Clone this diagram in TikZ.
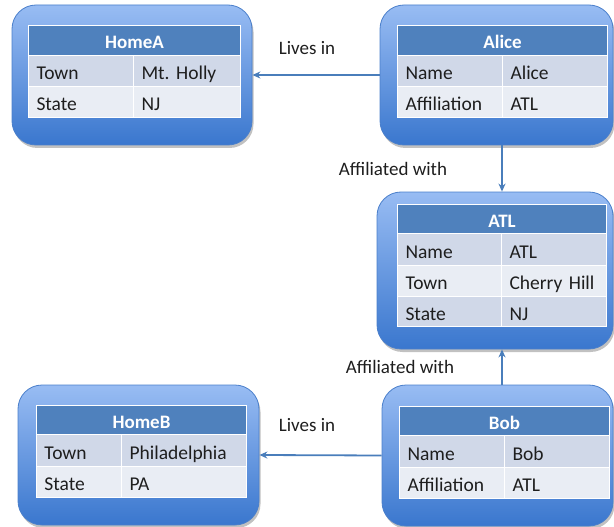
\documentclass[tikz,border=0pt]{standalone}
\usepackage{fontspec}
\setmainfont{Carlito}
\usetikzlibrary{shadows,arrows.meta}
\frenchspacing
\definecolor{entTop}{HTML}{98BCF3}
\definecolor{entBot}{HTML}{3A77CE}
\definecolor{entLine}{HTML}{4A7FCB}
\definecolor{hdrBlue}{HTML}{4F81BD}
\definecolor{rowA}{HTML}{D0D8E8}
\definecolor{rowB}{HTML}{E9EDF4}
\definecolor{arrBlue}{HTML}{4A7EBB}
\definecolor{txt}{HTML}{1E1E1E}
\tikzset{
  ent/.style={draw=entLine, line width=0.8pt, rounded corners=24pt,
    top color=entTop, bottom color=entBot,
    drop shadow={shadow xshift=1.5pt, shadow yshift=-3pt, opacity=0.35, fill=black!70},
    inner sep=0pt},
  hdr/.style={fill=hdrBlue, draw=white, line width=1pt, text=white,
    font=\fontsize{19}{22}\selectfont\bfseries, inner sep=0pt,
    text height=18pt, text depth=1pt},
  cellbox/.style={draw=white, line width=1pt, text=txt, align=left,
    inner xsep=8pt, inner ysep=0pt, font=\fontsize{19.5}{22}\selectfont,
    text height=18pt, text depth=1pt},
  lbl/.style={text=txt, font=\fontsize{19}{22}\selectfont, inner sep=0pt},
  arr/.style={draw=arrBlue, line width=1.8pt, -{Stealth[length=8pt,width=7pt]}}
}
% header: name, x1, x2, y1, y2, text
\newcommand\hdrcell[6]{%
  \pgfmathsetmacro\hw{#3-#2}\pgfmathsetmacro\hh{#5-#4}%
  \node[hdr, anchor=north west, minimum width=\hw pt, minimum height=\hh pt] (#1) at (#2,#4) {#6};}
% row: name, x1, xm, x2, y1, y2, fill, left, right
\newcommand\rowcells[9]{%
  \pgfmathsetmacro\wl{#3-#2-16}\pgfmathsetmacro\wr{#4-#3-16}\pgfmathsetmacro\hh{#6-#5}%
  \node[cellbox, fill=#7, anchor=north west, text width=\wl pt, minimum height=\hh pt] (#1l) at (#2,#5) {#8};
  \node[cellbox, fill=#7, anchor=north west, text width=\wr pt, minimum height=\hh pt] (#1r) at (#3,#5) {#9};}
\begin{document}
\begin{tikzpicture}[x=1pt, y=-1pt]
\useasboundingbox (0,0) rectangle (614,527);
% outer boxes
\node[ent, minimum width=240pt, minimum height=140pt] (homeA) at (132,75) {};
\node[ent, minimum width=233pt, minimum height=140pt] (alice) at (496.5,75) {};
\node[ent, minimum width=236pt, minimum height=157pt] (atl) at (495,270.5) {};
\node[ent, minimum width=241pt, minimum height=140pt] (homeB) at (138.5,455) {};
\node[ent, minimum width=231pt, minimum height=141pt] (bob) at (497.5,455.5) {};
% HomeA table
\hdrcell{hA}{28}{240}{25}{55}{HomeA}
\rowcells{hA1}{28}{133}{240}{55}{86}{rowA}{Town}{Mt. Holly}
\rowcells{hA2}{28}{133}{240}{86}{117}{rowB}{State}{NJ}
% Alice table
\hdrcell{al}{397}{607}{25}{55}{Alice}
\rowcells{al1}{397}{502}{607}{55}{86}{rowA}{Name}{Alice}
\rowcells{al2}{397}{502}{607}{86}{117}{rowB}{Affiliation}{ATL}
% ATL table
\hdrcell{at}{397}{606}{204}{233}{ATL}
\rowcells{at1}{397}{501}{606}{233}{265}{rowA}{Name}{ATL}
\rowcells{at2}{397}{501}{606}{265}{296}{rowB}{Town}{Cherry Hill}
\rowcells{at3}{397}{501}{606}{296}{326}{rowA}{State}{NJ}
% HomeB table
\hdrcell{hB}{36}{246}{405}{434}{HomeB}
\rowcells{hB1}{36}{121}{246}{434}{466}{rowA}{Town}{Philadelphia}
\rowcells{hB2}{36}{121}{246}{466}{497}{rowB}{State}{PA}
% Bob table
\hdrcell{bo}{399}{609}{406}{435}{Bob}
\rowcells{bo1}{399}{504}{609}{435}{467}{rowA}{Name}{Bob}
\rowcells{bo2}{399}{504}{609}{467}{498}{rowB}{Affiliation}{ATL}
% connector column
\coordinate (col) at (502,0);
% connectors
\draw[arr] (alice.west) -- (homeA.east);
\draw[arr] (alice.south -| col) -- (atl.north -| col);
\draw[arr] (bob.north -| col) -- (atl.south -| col);
\draw[arr] (bob.west) -- (homeB.east);
% labels
\node[lbl] (l1) at (307,48) {Lives in};
\node[lbl] (l2) at (393,169) {Affiliated with};
\node[lbl] (l3) at (400,367) {Affiliated with};
\node[lbl] (l4) at (307,425) {Lives in};
\end{tikzpicture}
\end{document}
